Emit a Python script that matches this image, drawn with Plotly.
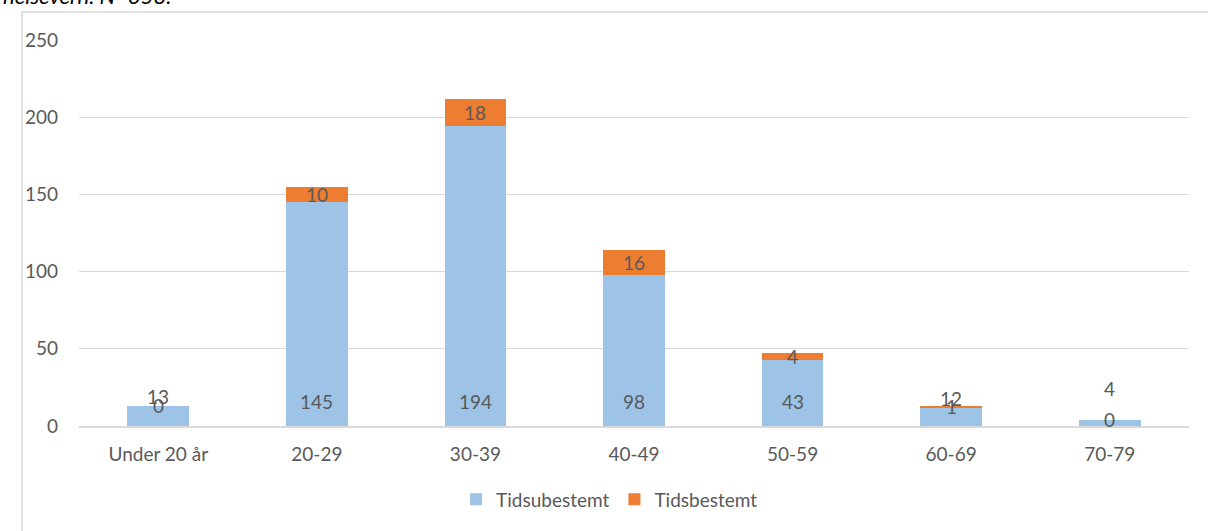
import plotly.graph_objects as go

categories = ["Under 20 år", "20-29", "30-39", "40-49", "50-59", "60-69", "70-79"]
tidsubestemt = [13, 145, 194, 98, 43, 12, 4]
tidsbestemt = [0, 10, 18, 16, 4, 1, 0]

BLUE = "#9DC3E6"
ORANGE = "#ED7D31"
GREY_TEXT = "#595959"
GRID = "#D9D9D9"
FONT = "Lato"
FS = 19

fig = go.Figure()
fig.add_trace(go.Bar(name="Tidsubestemt", x=categories, y=tidsubestemt,
                     marker=dict(color=BLUE, line=dict(width=0))))
fig.add_trace(go.Bar(name="Tidsbestemt", x=categories, y=tidsbestemt,
                     marker=dict(color=ORANGE, line=dict(width=0))))

annotations = []
# value labels: permanent near the base (lifted above short bars),
# temporary centred in its own segment
for c, a, b in zip(categories, tidsubestemt, tidsbestemt):
    base_y = 16 if a >= 20 else a + 6
    if a < 20 and b == 0 and a < 8:
        base_y = a + 20
    annotations.append(dict(x=c, y=base_y, text=str(a), showarrow=False,
                            font=dict(size=FS, color=GREY_TEXT, family=FONT),
                            xref="x", yref="y"))
    annotations.append(dict(x=c, y=a + b / 2, text=str(b), showarrow=False,
                            font=dict(size=FS, color=GREY_TEXT, family=FONT),
                            xref="x", yref="y"))

# caption line above the chart frame
annotations.append(dict(x=-0.070, y=1.076, xref="paper", yref="paper",
                        xanchor="left", yanchor="bottom", showarrow=False,
                        text="<i>helsevern. N=358.</i>",
                        font=dict(size=22, color="#000000", family=FONT)))

fig.update_layout(
    barmode="stack",
    bargap=0.61,
    width=1208, height=531,
    margin=dict(l=79, r=19, t=40, b=105),
    paper_bgcolor="white", plot_bgcolor="white",
    font=dict(family=FONT, size=FS, color=GREY_TEXT),
    showlegend=True,
    legend=dict(orientation="h", x=0.478, xanchor="center", y=-0.19, yanchor="middle",
                font=dict(size=FS, color=GREY_TEXT), itemwidth=30, traceorder="normal"),
    annotations=annotations,
    shapes=[dict(type="rect", xref="paper", yref="paper",
                 x0=-0.0514, x1=1.05, y0=-0.3, y1=1.0725,
                 line=dict(color=GRID, width=1.5), fillcolor="rgba(0,0,0,0)", layer="below")],
)
fig.update_xaxes(showline=True, linecolor=GRID, linewidth=1.5, ticks="",
                 tickfont=dict(size=FS, color=GREY_TEXT), showgrid=False,
                 ticklabelstandoff=10)
fig.update_yaxes(range=[0, 250], dtick=50, showgrid=True, gridcolor=GRID, gridwidth=1.2,
                 zeroline=False, ticks="", tickfont=dict(size=FS, color=GREY_TEXT),
                 ticklabelstandoff=20)

fig.write_html("out.html")
